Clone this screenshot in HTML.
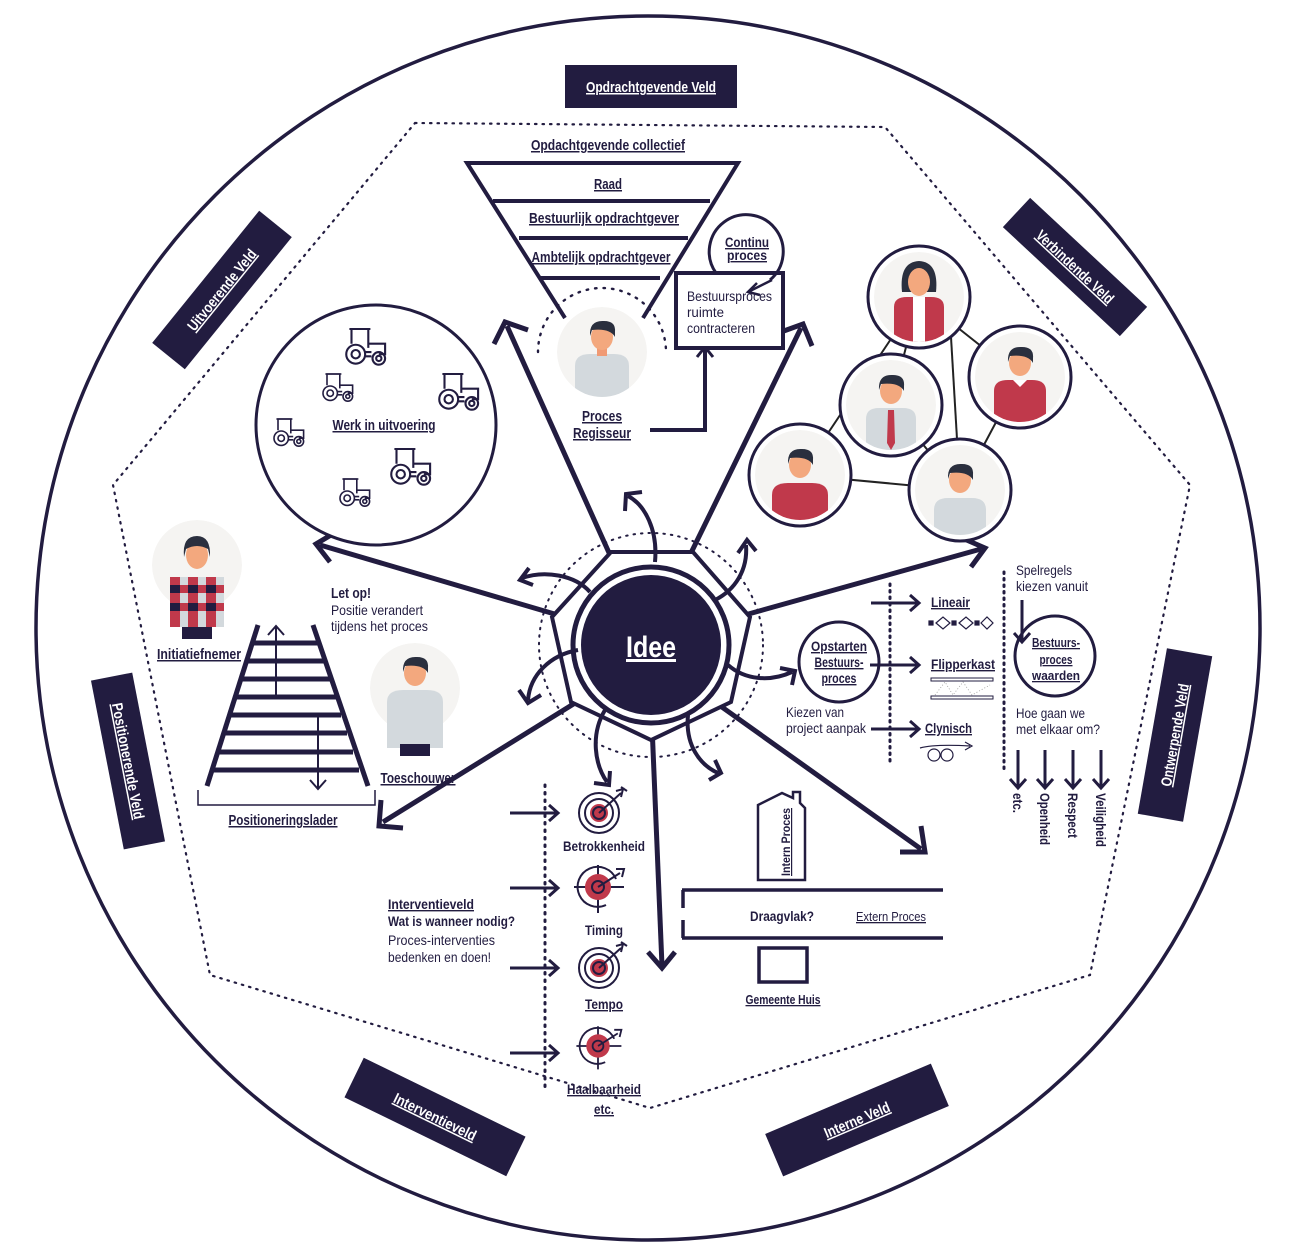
<!DOCTYPE html>
<html><head><meta charset="utf-8"><style>
html,body{margin:0;padding:0;background:#fff;}
svg{display:block;}
text{font-family:"Liberation Sans Narrow","Liberation Sans",sans-serif;fill:#221c40;}
.u{text-decoration:underline;}
.b{font-weight:bold;}
.lab{fill:#fff;font-weight:bold;font-size:15px;text-decoration:underline;}
</style></head><body>
<svg width="1296" height="1257" viewBox="0 0 1296 1257" xmlns="http://www.w3.org/2000/svg">
<defs>
<clipPath id="pc"><circle cx="0" cy="0" r="45"/></clipPath>
<g id="tr" fill="none" stroke="#221c40" stroke-width="2">
<path d="M-10,-6 L-10,-20 L6,-20 L6,-2"/><path d="M-12,-20 L8,-20"/><path d="M6,-6 L22,-6 L22,4 L16,4"/>
<circle cx="-6" cy="4" r="9"/><circle cx="-6" cy="4" r="4"/><circle cx="16" cy="8" r="6"/><circle cx="16" cy="8" r="2.5"/><path d="M3,2 L9,2 M3,6 L9,6"/>
</g>
<g id="tg" fill="none" stroke="#221c40" stroke-width="2">
<circle r="20"/><circle r="14"/><circle r="9" fill="#c0394b" stroke="none"/><circle r="6"/><path d="M0,0 L22,-20"/><path d="M17,-22 L24,-24 L22,-16 M22,-26 L28,-22"/>
</g>
<g id="tg2" fill="none" stroke="#221c40" stroke-width="2">
<path d="M0,-22 L0,26 M-24,0 L26,0"/><path d="M8,18 A20,20 0 1 1 18,-8"/><circle r="13" fill="#c0394b" stroke="none"/><circle r="6"/><path d="M0,0 L22,-14"/><path d="M18,-18 L26,-18 L24,-10"/>
</g>
</defs>

<circle cx="648" cy="628" r="612" fill="none" stroke="#221c40" stroke-width="3.5"/>
<polygon points="415,123 885,127 1190,485 1090,975 650,1108 210,975 113,485" fill="none" stroke="#221c40" stroke-width="2.2" stroke-dasharray="1.5 6" stroke-linecap="round"/>

<rect x="565" y="65" width="172" height="43" fill="#221c40"/>
<text x="651" y="92" text-anchor="middle" class="lab" textLength="130" lengthAdjust="spacingAndGlyphs">Opdrachtgevende Veld</text>
<g transform="translate(222,290) rotate(-51)"><rect x="-85" y="-21" width="170" height="42" fill="#221c40"/><text y="5" text-anchor="middle" class="lab" font-size="14" textLength="100" lengthAdjust="spacingAndGlyphs">Uitvoerende Veld</text></g>
<g transform="translate(1075,267) rotate(43)"><rect x="-80" y="-20" width="160" height="40" fill="#221c40"/><text y="5" text-anchor="middle" class="lab" font-size="14" textLength="100" lengthAdjust="spacingAndGlyphs">Verbindende Veld</text></g>
<g transform="translate(1175,735) rotate(-80)"><rect x="-84" y="-23" width="168" height="46" fill="#221c40"/><text y="5" text-anchor="middle" class="lab" font-size="14" textLength="104" lengthAdjust="spacingAndGlyphs">Ontwerpende Veld</text></g>
<g transform="translate(128,761) rotate(79)"><rect x="-86" y="-21" width="172" height="42" fill="#221c40"/><text y="5" text-anchor="middle" class="lab" font-size="14" textLength="118" lengthAdjust="spacingAndGlyphs">Positionerende Veld</text></g>
<g transform="translate(435,1117) rotate(26)"><rect x="-90" y="-22" width="180" height="44" fill="#221c40"/><text y="5" text-anchor="middle" class="lab" font-size="14" textLength="90" lengthAdjust="spacingAndGlyphs">Interventieveld</text></g>
<g transform="translate(857,1120) rotate(-23)"><rect x="-90" y="-23" width="180" height="46" fill="#221c40"/><text y="5" text-anchor="middle" class="lab" font-size="14" textLength="70" lengthAdjust="spacingAndGlyphs">Interne Veld</text></g>

<g stroke="#221c40" stroke-width="5" fill="none">
<line x1="610" y1="555" x2="507" y2="326"/><path d="M494,344 L505,322 L528,330"/>
<line x1="690" y1="555" x2="801" y2="328"/><path d="M781,332 L803,324 L812,346"/>
<line x1="575" y1="620" x2="320" y2="545"/><path d="M336,532 L316,544 L330,562"/>
<line x1="727" y1="620" x2="981" y2="549"/><path d="M962,538 L985,548 L971,567"/>
<line x1="588" y1="695" x2="383" y2="822"/><path d="M381,800 L379,826 L403,828"/>
<line x1="652" y1="725" x2="662" y2="966"/><path d="M648,952 L662,968 L675,952"/>
<line x1="712" y1="700" x2="921" y2="849"/><path d="M921,826 L925,852 L900,852"/>
</g>

<circle cx="651" cy="645" r="112" fill="none" stroke="#221c40" stroke-width="2" stroke-dasharray="1.5 6" stroke-linecap="round"/>
<polygon points="611,552 693,552 750,617 731,702 651,740 571,702 552,617" fill="#fff" stroke="#221c40" stroke-width="4"/>
<circle cx="651" cy="645" r="78" fill="#fff" stroke="#221c40" stroke-width="5"/>
<circle cx="651" cy="645" r="70" fill="#221c40"/>
<text x="651" y="657" text-anchor="middle" font-size="30" font-weight="bold" style="fill:#fff;text-decoration:underline" textLength="50" lengthAdjust="spacingAndGlyphs">Idee</text>

<g stroke="#221c40" stroke-width="4" fill="none">
<path d="M655,562 C658,530 645,505 628,496"/><path d="M625,511 L626,494 L642,492"/>
<path d="M590,592 C575,575 545,570 522,578"/><path d="M529,568 L520,580 L533,585"/>
<path d="M715,600 C735,590 748,570 746,545"/><path d="M738,553 L747,540 L756,551"/>
<path d="M578,650 C550,655 530,675 528,700"/><path d="M519,690 L528,703 L541,695"/>
<path d="M728,665 C745,680 770,682 792,672"/><path d="M780,668 L795,671 L792,685"/>
<path d="M605,710 C590,735 595,765 607,782"/><path d="M594,783 L609,785 L610,771"/>
<path d="M688,715 C685,745 700,765 718,773"/><path d="M709,780 L721,773 L715,760"/>
</g>

<g stroke="#221c40" stroke-width="4" fill="none">
<path d="M565,318 L467,163 L738,163 L643,318"/>
<line x1="493" y1="201" x2="710" y2="201"/>
<line x1="519" y1="238" x2="688" y2="238"/>
<line x1="540" y1="278" x2="660" y2="278"/>
</g>
<text x="608" y="150" text-anchor="middle" font-size="15" class="u b" textLength="154" lengthAdjust="spacingAndGlyphs">Opdachtgevende collectief</text>
<text x="608" y="189" text-anchor="middle" font-size="15" class="u b" textLength="28" lengthAdjust="spacingAndGlyphs">Raad</text>
<text x="604" y="223" text-anchor="middle" font-size="15" class="u b" textLength="150" lengthAdjust="spacingAndGlyphs">Bestuurlijk opdrachtgever</text>
<text x="601" y="262" text-anchor="middle" font-size="15" class="u b" textLength="139" lengthAdjust="spacingAndGlyphs">Ambtelijk opdrachtgever</text>
<path d="M538,352 A64,64 0 0 1 666,352" fill="none" stroke="#221c40" stroke-width="2.4" stroke-dasharray="1.5 7" stroke-linecap="round"/>

<g transform="translate(602,352)"><g clip-path="url(#pc)"><circle r="45" fill="#f5f4f2"/><path d="M-27,45 L-27,14 Q-27,2 -12,2 L12,2 Q27,2 27,14 L27,45Z" fill="#d3d9dd"/><rect x="-5" y="-6" width="10" height="10" fill="#f09a74"/><ellipse cx="0" cy="-15" rx="11" ry="13" fill="#f3a87e"/><path d="M-12,-16 Q-13,-32 2,-31 Q14,-31 13,-20 L13,-15 Q8,-24 -10,-22 Z" fill="#2a2f3e"/></g></g>
<text x="602" y="421" text-anchor="middle" font-size="15" class="u b" textLength="40" lengthAdjust="spacingAndGlyphs">Proces</text>
<text x="602" y="438" text-anchor="middle" font-size="15" class="u b" textLength="58" lengthAdjust="spacingAndGlyphs">Regisseur</text>
<path d="M650,430 L705,430 L705,350" fill="none" stroke="#221c40" stroke-width="4"/>
<path d="M697,357 L705,347 L713,357" fill="none" stroke="#221c40" stroke-width="3"/>
<rect x="676" y="273" width="107" height="75" fill="#fff" stroke="#221c40" stroke-width="4"/>
<text x="687" y="301" font-size="14" textLength="85" lengthAdjust="spacingAndGlyphs">Bestuursproces</text>
<text x="687" y="317" font-size="14" textLength="37" lengthAdjust="spacingAndGlyphs">ruimte</text>
<text x="687" y="333" font-size="14" textLength="68" lengthAdjust="spacingAndGlyphs">contracteren</text>
<path d="M716,273 A37,37 0 1 1 770,280" fill="none" stroke="#221c40" stroke-width="3"/>
<path d="M772,280 L750,291" stroke="#221c40" stroke-width="2.5"/><path d="M757,283 L748,292 L760,295" fill="none" stroke="#221c40" stroke-width="2.5"/>
<text x="747" y="247" text-anchor="middle" font-size="14" class="u b" textLength="44" lengthAdjust="spacingAndGlyphs">Continu</text>
<text x="747" y="260" text-anchor="middle" font-size="14" class="u b" textLength="40" lengthAdjust="spacingAndGlyphs">proces</text>

<circle cx="376" cy="425" r="120" fill="#fff" stroke="#221c40" stroke-width="3"/>
<use href="#tr" transform="translate(362,350) scale(1.05)"/>
<use href="#tr" transform="translate(335,390) scale(0.8)"/>
<use href="#tr" transform="translate(455,395) scale(1.05)"/>
<use href="#tr" transform="translate(286,435) scale(0.8)"/>
<use href="#tr" transform="translate(407,470) scale(1.05)"/>
<use href="#tr" transform="translate(352,495) scale(0.8)"/>
<text x="384" y="430" text-anchor="middle" font-size="15" class="u b" textLength="103" lengthAdjust="spacingAndGlyphs">Werk in uitvoering</text>

<g stroke="#222" stroke-width="2">
<line x1="800" y1="475" x2="919" y2="297"/><line x1="800" y1="475" x2="960" y2="490"/>
<line x1="891" y1="405" x2="960" y2="490"/><line x1="950" y1="320" x2="960" y2="490"/>
<line x1="919" y1="297" x2="1020" y2="377"/><line x1="1020" y1="377" x2="960" y2="490"/>
<line x1="891" y1="405" x2="919" y2="297"/>
</g>
<g transform="translate(919,297)"><circle r="51" fill="#fff" stroke="#221c40" stroke-width="3"/><g clip-path="url(#pc)"><circle r="45" fill="#f5f4f2"/><path d="M-17,-5 Q-20,-35 0,-36 Q20,-35 17,-5 Z" fill="#2a2f3e"/><path d="M-25,45 L-25,10 Q-25,0 -12,0 L12,0 Q25,0 25,10 L25,45Z" fill="#c0394b"/><rect x="-6" y="0" width="12" height="45" fill="#fff"/><ellipse cx="0" cy="-15" rx="11" ry="14" fill="#f3a87e"/></g></g>
<g transform="translate(891,405)"><circle r="51" fill="#fff" stroke="#221c40" stroke-width="3"/><g clip-path="url(#pc)"><circle r="45" fill="#f5f4f2"/><path d="M-25,45 L-25,14 Q-25,3 -12,3 L12,3 Q25,3 25,14 L25,45Z" fill="#d3d9dd"/><path d="M-3,5 L3,5 L4,38 L0,45 L-4,38Z" fill="#c0394b"/><ellipse cx="0" cy="-14" rx="11" ry="13" fill="#f3a87e"/><path d="M-12,-15 Q-13,-31 2,-30 Q14,-30 13,-19 L13,-14 Q8,-23 -10,-21 Z" fill="#2a2f3e"/></g></g>
<g transform="translate(1020,377)"><circle r="51" fill="#fff" stroke="#221c40" stroke-width="3"/><g clip-path="url(#pc)"><circle r="45" fill="#f5f4f2"/><path d="M-26,45 L-26,14 Q-26,3 -12,3 L12,3 Q26,3 26,14 L26,45Z" fill="#c0394b"/><path d="M-7,3 L0,10 L7,3Z" fill="#fff"/><ellipse cx="0" cy="-14" rx="11" ry="13" fill="#f3a87e"/><path d="M-12,-15 Q-13,-31 2,-30 Q14,-30 13,-19 L13,-14 Q8,-23 -10,-21 Z" fill="#2a2f3e"/></g></g>
<g transform="translate(800,475)"><circle r="51" fill="#fff" stroke="#221c40" stroke-width="3"/><g clip-path="url(#pc)"><circle r="45" fill="#f5f4f2"/><path d="M-28,45 L-28,20 Q-28,8 -12,8 L12,8 Q28,8 28,20 L28,45Z" fill="#c0394b"/><ellipse cx="0" cy="-10" rx="11" ry="13" fill="#f3a87e"/><path d="M-12,-11 Q-13,-27 2,-26 Q14,-26 13,-15 L13,-10 Q8,-19 -10,-17 Z" fill="#2a2f3e"/></g></g>
<g transform="translate(960,490)"><circle r="51" fill="#fff" stroke="#221c40" stroke-width="3"/><g clip-path="url(#pc)"><circle r="45" fill="#f5f4f2"/><path d="M-26,45 L-26,20 Q-26,8 -12,8 L12,8 Q26,8 26,20 L26,45Z" fill="#d3d9dd"/><ellipse cx="0" cy="-10" rx="11" ry="13" fill="#f3a87e"/><path d="M-12,-11 Q-13,-27 2,-26 Q14,-26 13,-15 L13,-10 Q8,-19 -10,-17 Z" fill="#2a2f3e"/></g></g>

<g transform="translate(197,565)"><g clip-path="url(#pc)"><circle r="45" fill="#f5f4f2"/></g>
<rect x="-27" y="12" width="54" height="50" fill="#d3d9dd"/>
<g fill="#c0394b"><rect x="-27" y="12" width="10" height="50"/><rect x="-9" y="12" width="10" height="50"/><rect x="9" y="12" width="10" height="50"/><rect x="-27" y="20" width="54" height="8"/><rect x="-27" y="38" width="54" height="8"/></g>
<g fill="#221c40"><rect x="-27" y="20" width="10" height="8"/><rect x="-9" y="20" width="10" height="8"/><rect x="9" y="20" width="10" height="8"/><rect x="-27" y="38" width="10" height="8"/><rect x="-9" y="38" width="10" height="8"/><rect x="9" y="38" width="10" height="8"/></g>
<rect x="-15" y="62" width="30" height="12" fill="#221c40"/>
<ellipse cx="0" cy="-10" rx="11" ry="14" fill="#f3a87e"/><path d="M-13,-8 Q-15,-29 0,-29 Q14,-29 13,-8 L11,-16 Q0,-22 -11,-16Z" fill="#2a2f3e"/></g>
<text x="199" y="659" text-anchor="middle" font-size="15" class="u b" textLength="84" lengthAdjust="spacingAndGlyphs">Initiatiefnemer</text>
<g stroke="#221c40" stroke-width="5">
<line x1="258" y1="625" x2="207" y2="786"/><line x1="313" y1="625" x2="368" y2="786"/>
<line x1="254" y1="643" x2="318" y2="643"/><line x1="248" y1="661" x2="324" y2="661"/><line x1="242" y1="679" x2="330" y2="679"/><line x1="237" y1="697" x2="336" y2="697"/><line x1="231" y1="715" x2="341" y2="715"/><line x1="225" y1="733" x2="347" y2="733"/><line x1="219" y1="752" x2="353" y2="752"/><line x1="213" y1="770" x2="359" y2="770"/>
</g>
<g stroke="#221c40" stroke-width="2" fill="none">
<line x1="276" y1="695" x2="276" y2="627"/><path d="M268,635 L276,626 L284,635"/>
<line x1="318" y1="715" x2="318" y2="788"/><path d="M310,780 L318,789 L326,780"/>
<path d="M198,790 L198,805 L375,805 L375,790" stroke-width="1.5"/>
</g>
<text x="283" y="825" text-anchor="middle" font-size="15" class="u b" textLength="109" lengthAdjust="spacingAndGlyphs">Positioneringslader</text>
<text x="331" y="598" font-size="15" class="b" textLength="40" lengthAdjust="spacingAndGlyphs">Let op!</text>
<text x="331" y="615" font-size="14" textLength="92" lengthAdjust="spacingAndGlyphs">Positie verandert</text>
<text x="331" y="631" font-size="14" textLength="97" lengthAdjust="spacingAndGlyphs">tijdens het proces</text>
<g transform="translate(415,688)"><g clip-path="url(#pc)"><circle r="45" fill="#f5f4f2"/></g>
<path d="M-28,60 L-28,14 Q-28,2 -12,2 L12,2 Q28,2 28,14 L28,60Z" fill="#d3d9dd"/><rect x="-15" y="56" width="30" height="12" fill="#221c40"/>
<ellipse cx="0" cy="-15" rx="11" ry="13" fill="#f3a87e"/><path d="M-12,-16 Q-13,-32 2,-31 Q14,-31 13,-20 L13,-15 Q8,-24 -10,-22 Z" fill="#2a2f3e"/></g>
<text x="418" y="783" text-anchor="middle" font-size="15" class="u b" textLength="75" lengthAdjust="spacingAndGlyphs">Toeschouwer</text>

<line x1="545" y1="785" x2="545" y2="1088" stroke="#221c40" stroke-width="3" stroke-dasharray="1.5 6" stroke-linecap="round"/>
<g stroke="#221c40" stroke-width="3" fill="none">
<line x1="510" y1="813" x2="556" y2="813"/><path d="M549,805 L558,813 L549,821"/>
<line x1="510" y1="888" x2="556" y2="888"/><path d="M549,880 L558,888 L549,896"/>
<line x1="510" y1="968" x2="556" y2="968"/><path d="M549,960 L558,968 L549,976"/>
<line x1="510" y1="1053" x2="556" y2="1053"/><path d="M549,1045 L558,1053 L549,1061"/>
</g>
<use href="#tg" transform="translate(599,813)"/>
<use href="#tg2" transform="translate(598,887)"/>
<use href="#tg" transform="translate(599,968)"/>
<use href="#tg2" transform="translate(598,1046) scale(0.9)"/>
<text x="604" y="851" text-anchor="middle" font-size="14" class="b" textLength="82" lengthAdjust="spacingAndGlyphs">Betrokkenheid</text>
<text x="604" y="935" text-anchor="middle" font-size="14" class="b" textLength="38" lengthAdjust="spacingAndGlyphs">Timing</text>
<text x="604" y="1009" text-anchor="middle" font-size="14" class="u b" textLength="38" lengthAdjust="spacingAndGlyphs">Tempo</text>
<text x="604" y="1094" text-anchor="middle" font-size="14" class="u b" textLength="74" lengthAdjust="spacingAndGlyphs">Haalbaarheid</text>
<text x="604" y="1114" text-anchor="middle" font-size="14" class="u b" textLength="20" lengthAdjust="spacingAndGlyphs">etc.</text>
<text x="388" y="909" font-size="14" class="u b" textLength="86" lengthAdjust="spacingAndGlyphs">Interventieveld </text>
<text x="388" y="926" font-size="14" class="b" textLength="127" lengthAdjust="spacingAndGlyphs">Wat is wanneer nodig?</text>
<text x="388" y="945" font-size="14" textLength="107" lengthAdjust="spacingAndGlyphs">Proces-interventies</text>
<text x="388" y="962" font-size="14" textLength="103" lengthAdjust="spacingAndGlyphs">bedenken en doen!</text>

<path d="M758,805 L758,880 L805,880 L805,808 L800,803 L800,792 L793,792 L793,798 L782,793 Z" fill="#fff" stroke="#221c40" stroke-width="2.5"/>
<text transform="translate(790,876) rotate(-90)" font-size="12" class="u b" textLength="68" lengthAdjust="spacingAndGlyphs">Intern Proces</text>
<g stroke="#221c40" stroke-width="3.5" fill="none">
<line x1="682" y1="890" x2="943" y2="890"/><line x1="682" y1="938" x2="943" y2="938"/>
<line x1="683" y1="890" x2="683" y2="908"/><line x1="683" y1="920" x2="683" y2="938"/>
<rect x="759" y="948" width="48" height="34"/>
</g>
<text x="782" y="921" text-anchor="middle" font-size="14" class="b" textLength="64" lengthAdjust="spacingAndGlyphs">Draagvlak?</text>
<text x="891" y="921" text-anchor="middle" font-size="13" class="u" textLength="70" lengthAdjust="spacingAndGlyphs">Extern Proces</text>
<text x="783" y="1004" text-anchor="middle" font-size="13" class="u b" textLength="75" lengthAdjust="spacingAndGlyphs">Gemeente Huis</text>

<circle cx="839" cy="662" r="40" fill="#fff" stroke="#221c40" stroke-width="3"/>
<text x="839" y="651" text-anchor="middle" font-size="14" class="u b" textLength="56" lengthAdjust="spacingAndGlyphs">Opstarten</text>
<text x="839" y="667" text-anchor="middle" font-size="14" class="u b" textLength="49" lengthAdjust="spacingAndGlyphs">Bestuurs-</text>
<text x="839" y="683" text-anchor="middle" font-size="14" class="u b" textLength="35" lengthAdjust="spacingAndGlyphs">proces</text>
<text x="786" y="717" font-size="14" textLength="58" lengthAdjust="spacingAndGlyphs">Kiezen van</text>
<text x="786" y="733" font-size="14" textLength="80" lengthAdjust="spacingAndGlyphs">project aanpak</text>
<line x1="890" y1="584" x2="890" y2="764" stroke="#221c40" stroke-width="3" stroke-dasharray="1.5 5" stroke-linecap="round"/>
<g stroke="#221c40" stroke-width="3" fill="none">
<line x1="871" y1="603" x2="918" y2="603"/><path d="M910,595 L919,603 L910,611"/>
<line x1="870" y1="665" x2="918" y2="665"/><path d="M910,657 L919,665 L910,673"/>
<line x1="871" y1="729" x2="918" y2="729"/><path d="M910,721 L919,729 L910,737"/>
</g>
<text x="931" y="607" font-size="14" class="u b" textLength="39" lengthAdjust="spacingAndGlyphs">Lineair</text>
<g fill="#fff" stroke="#221c40" stroke-width="1.2"><rect x="929" y="621" width="4" height="4" fill="#221c40"/><path d="M936,623 L943,617 L950,623 L943,629Z"/><rect x="952" y="621" width="4" height="4" fill="#221c40"/><path d="M959,623 L966,617 L973,623 L966,629Z"/><rect x="975" y="621" width="4" height="4" fill="#221c40"/><path d="M981,623 L987,617 L993,623 L987,629Z"/></g>
<text x="931" y="669" font-size="14" class="u b" textLength="64" lengthAdjust="spacingAndGlyphs">Flipperkast</text>
<rect x="931" y="678" width="62" height="3" fill="none" stroke="#221c40" stroke-width="1"/><rect x="931" y="696" width="62" height="3" fill="none" stroke="#221c40" stroke-width="1"/>
<path d="M935,695 L945,682 L953,695 L963,682 L972,695 L990,685" fill="none" stroke="#999" stroke-width="0.8" stroke-dasharray="1 2"/>
<text x="925" y="733" font-size="14" class="u b" textLength="47" lengthAdjust="spacingAndGlyphs">Clynisch</text>
<g fill="none" stroke="#221c40" stroke-width="1.2"><circle cx="934" cy="755" r="6"/><circle cx="947" cy="755" r="6"/><path d="M920,748 Q935,744 970,746 M965,742 L972,746 L965,750"/></g>
<line x1="1004" y1="572" x2="1004" y2="770" stroke="#221c40" stroke-width="3" stroke-dasharray="1.5 5" stroke-linecap="round"/>
<text x="1016" y="575" font-size="14" textLength="56" lengthAdjust="spacingAndGlyphs">Spelregels</text>
<text x="1016" y="591" font-size="14" textLength="72" lengthAdjust="spacingAndGlyphs">kiezen vanuit</text>
<circle cx="1055" cy="656" r="40" fill="#fff" stroke="#221c40" stroke-width="3"/>
<g stroke="#221c40" stroke-width="3" fill="none"><line x1="1022" y1="600" x2="1022" y2="641"/><path d="M1014,633 L1022,642 L1030,633"/></g>
<text x="1056" y="647" text-anchor="middle" font-size="13" class="u b" textLength="48" lengthAdjust="spacingAndGlyphs">Bestuurs-</text>
<text x="1056" y="664" text-anchor="middle" font-size="13" class="u b" textLength="33" lengthAdjust="spacingAndGlyphs">proces</text>
<text x="1056" y="680" text-anchor="middle" font-size="13" class="u b" textLength="48" lengthAdjust="spacingAndGlyphs">waarden</text>
<text x="1016" y="718" font-size="14" textLength="69" lengthAdjust="spacingAndGlyphs">Hoe gaan we</text>
<text x="1016" y="734" font-size="14" textLength="84" lengthAdjust="spacingAndGlyphs">met elkaar om?</text>
<g stroke="#221c40" stroke-width="3" fill="none">
<line x1="1018" y1="750" x2="1018" y2="787"/><path d="M1010,779 L1018,788 L1026,779"/>
<line x1="1045" y1="750" x2="1045" y2="787"/><path d="M1037,779 L1045,788 L1053,779"/>
<line x1="1073" y1="750" x2="1073" y2="787"/><path d="M1065,779 L1073,788 L1081,779"/>
<line x1="1101" y1="750" x2="1101" y2="787"/><path d="M1093,779 L1101,788 L1109,779"/>
</g>
<text transform="translate(1013,793) rotate(90)" font-size="14" class="b" textLength="20" lengthAdjust="spacingAndGlyphs">etc.</text>
<text transform="translate(1040,793) rotate(90)" font-size="14" class="b" textLength="52" lengthAdjust="spacingAndGlyphs">Openheid</text>
<text transform="translate(1068,793) rotate(90)" font-size="14" class="b" textLength="45" lengthAdjust="spacingAndGlyphs">Respect</text>
<text transform="translate(1096,793) rotate(90)" font-size="14" class="b" textLength="54" lengthAdjust="spacingAndGlyphs">Veiligheid</text>
</svg>
</body></html>
